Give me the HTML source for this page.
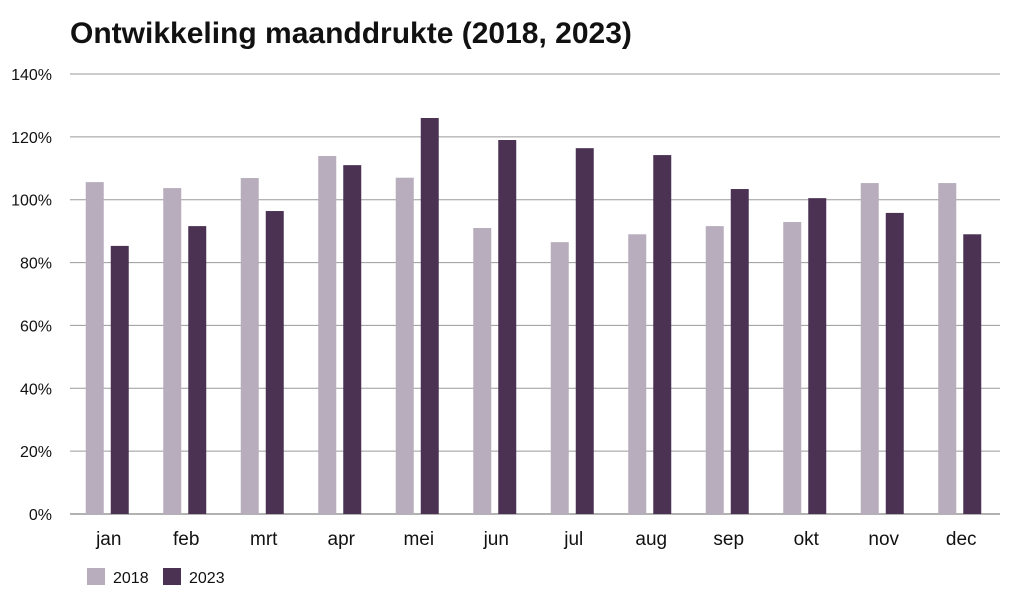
<!DOCTYPE html>
<html><head><meta charset="utf-8"><style>
body{margin:0;background:#fff;width:1024px;height:608px;overflow:hidden;font-family:"Liberation Sans",sans-serif;}
</style></head><body>
<svg width="1024" height="608" xmlns="http://www.w3.org/2000/svg">
<text x="70" y="43" font-size="30" font-weight="bold" fill="#111">Ontwikkeling maanddrukte (2018, 2023)</text>
<g id="grid"></g><g id="bars"></g><g id="xlabels"></g>
<g>
<rect x="87" y="568" width="18" height="17" fill="#b7adbd"/>
<text x="113" y="583" font-size="16" fill="#111">2018</text>
<rect x="163" y="568" width="18" height="17" fill="#4b3253"/>
<text x="189" y="583" font-size="16" fill="#111">2023</text>
</g>
</svg>
<script>
const months=["jan","feb","mrt","apr","mei","jun","jul","aug","sep","okt","nov","dec"];
const s2018=[105.6,103.7,106.9,113.9,107,91,86.5,89,91.6,92.9,105.3,105.3];
const s2023=[85.3,91.6,96.4,111,126,119,116.4,114.2,103.4,100.5,95.8,89];
const ticks=[0,20,40,60,80,100,120,140];
const NS="http://www.w3.org/2000/svg";
const L=70,R=1000,T=74,B=514,max=140;
const y=v=>B-(v/max)*(B-T);
const band=(R-L)/months.length;
const xc=i=>L+band*(i+0.5);
const grid=document.getElementById('grid');
ticks.forEach(t=>{
 const l=document.createElementNS(NS,'line');
 l.setAttribute('x1',L);l.setAttribute('x2',R);l.setAttribute('y1',y(t));l.setAttribute('y2',y(t));
 l.setAttribute('stroke',t===0?'#666':'#9a9a9a');l.setAttribute('stroke-width','1');
 
 
 grid.appendChild(l);
 const tx=document.createElementNS(NS,'text');
 tx.setAttribute('x',52);tx.setAttribute('y',y(t)+6);tx.setAttribute('text-anchor','end');
 tx.setAttribute('font-size','16');tx.setAttribute('fill','#111');tx.textContent=t+'%';
 
 
 grid.appendChild(tx);
});
const bars=document.getElementById('bars'),xl=document.getElementById('xlabels');
months.forEach((m,i)=>{
 [[s2018[i],-23,'#b7adbd','2018'],[s2023[i],2,'#4b3253','2023']].forEach(([v,off,c,s])=>{
  const r=document.createElementNS(NS,'rect');
  r.setAttribute('x',xc(i)+off);r.setAttribute('width',18);
  r.setAttribute('y',y(v));r.setAttribute('height',B-y(v));r.setAttribute('fill',c);
  
  
  bars.appendChild(r);
 });
 const t=document.createElementNS(NS,'text');
 t.setAttribute('x',xc(i));t.setAttribute('y',545);t.setAttribute('text-anchor','middle');
 t.setAttribute('font-size','19');t.setAttribute('fill','#111');t.textContent=m;
 
 
 xl.appendChild(t);
});
</script>
</body></html>
